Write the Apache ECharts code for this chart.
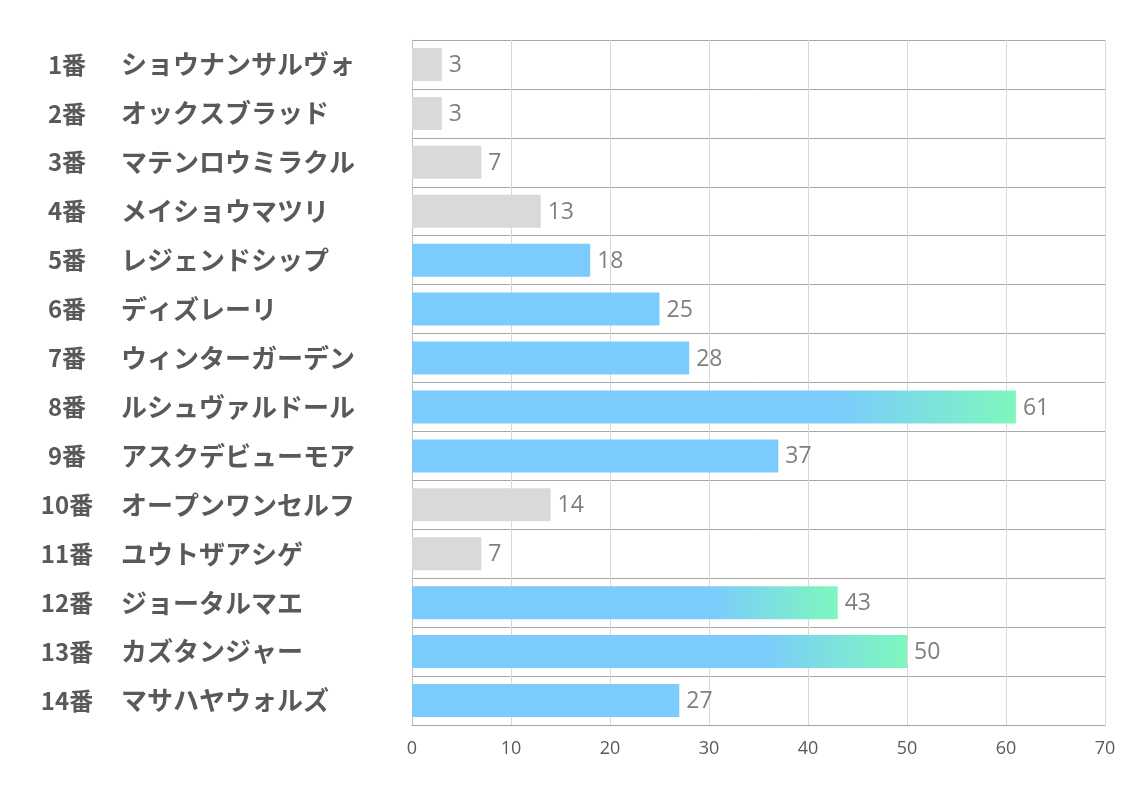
<!DOCTYPE html>
<html><head><meta charset="utf-8">
<script src="https://cdn.jsdelivr.net/npm/echarts@6/dist/echarts.min.js"></script>
<style>html,body{margin:0;padding:0;background:#fff}#c{width:1134px;height:793px}</style>
</head><body><div id="c"></div>
<script>
const numbers = ['1番','2番','3番','4番','5番','6番','7番','8番','9番','10番','11番','12番','13番','14番'];
const names = ['ショウナンサルヴォ','オックスブラッド','マテンロウミラクル','メイショウマツリ','レジェンドシップ','ディズレーリ','ウィンターガーデン','ルシュヴァルドール','アスクデビューモア','オープンワンセルフ','ユウトザアシゲ','ジョータルマエ','カズタンジャー','マサハヤウォルズ'];
const values = [3,3,7,13,18,25,28,61,37,14,7,43,50,27];
const tiers = ['low','low','low','low','mid','mid','mid','top','mid','low','low','top','top','mid'];
const xTicks = [0,10,20,30,40,50,60,70];

const GRAY = '#d9d9d9', BLUE = '#7bcbfd', GREEN = '#7ef7be';
function colorFor(t){
  if (t === 'low') return GRAY;
  if (t === 'mid') return BLUE;
  return new echarts.graphic.LinearGradient(0,0,1,0,[
    {offset:0,color:BLUE},{offset:0.7,color:BLUE},{offset:1,color:GREEN}]);
}
const cats = numbers.map((n,i)=>n+'|'+names[i]);
const chart = echarts.init(document.getElementById('c'));
chart.setOption({
  animation:false,
  grid:{left:412,right:29,top:40,bottom:68,containLabel:false},
  xAxis:{type:'value',min:xTicks[0],max:xTicks[xTicks.length-1],interval:10,
    axisLine:{show:true,lineStyle:{color:'#a6a6a6',width:1}},
    axisTick:{show:false},
    axisLabel:{margin:15,color:'#595959',fontSize:18,fontFamily:"'Open Sans', sans-serif"},
    splitLine:{show:true,lineStyle:{color:'#d9d9d9',width:1}}},
  yAxis:{type:'category',inverse:true,data:cats,
    axisLine:{show:true,lineStyle:{color:'#bfbfbf'}},
    axisTick:{show:false},
    splitLine:{show:true,lineStyle:{color:'#a6a6a6',width:1}},
    axisLabel:{margin:0,align:'left',padding:[0,0,0,-374],
      formatter:function(v){const p=v.split('|');return '{n|'+p[0]+'}{m|'+p[1]+'}';},
      rich:{
        n:{width:58,align:'right',fontSize:24,fontWeight:'bold',color:'#595959',fontFamily:"'Noto Sans CJK JP'"},
        m:{align:'left',padding:[0,0,0,25],fontSize:26,fontWeight:'bold',color:'#595959',fontFamily:"'Noto Sans CJK JP'"}
      }}},
  series:[{type:'bar',barWidth:33,
    data:values.map((v,i)=>({value:v,itemStyle:{color:colorFor(tiers[i])}})),
    label:{show:true,position:'right',distance:7,offset:[0,1],color:'#7f7f7f',fontSize:23,fontFamily:"'Open Sans', sans-serif"}}]
});
</script></body></html>
